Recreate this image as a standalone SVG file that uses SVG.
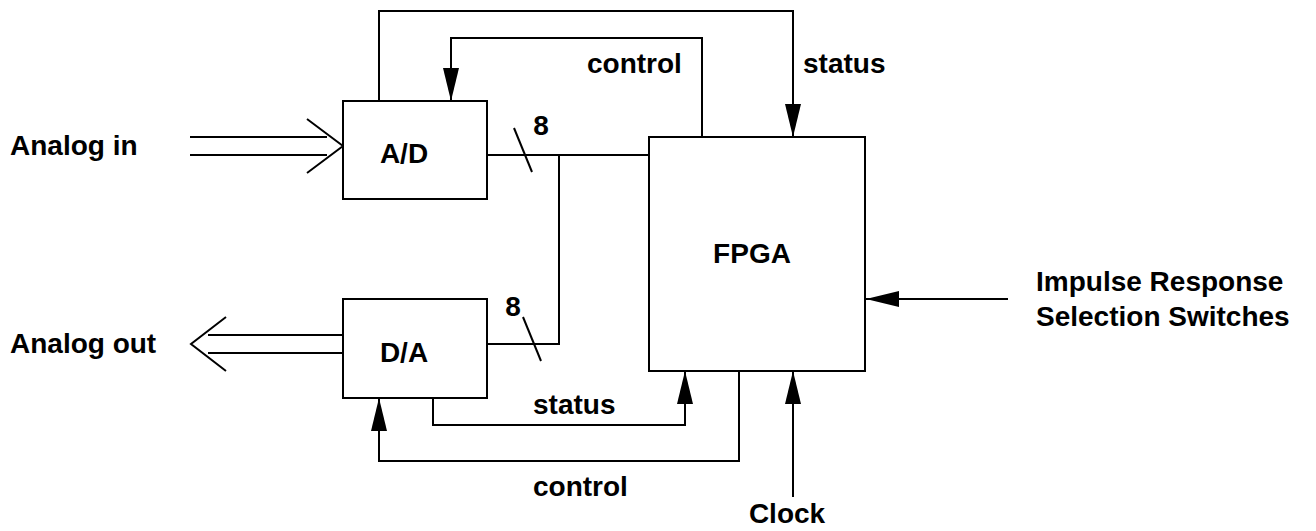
<svg xmlns="http://www.w3.org/2000/svg" width="1316" height="531" viewBox="0 0 1316 531">
  <style>
    .box { fill: #fff; stroke: #000; stroke-width: 2; }
    .wire { fill: none; stroke: #000; stroke-width: 2; }
    .arr { fill: none; stroke: #000; stroke-width: 2; marker-end: url(#head); }
    .t { font-family: "Liberation Sans", Arial, sans-serif; font-weight: bold; font-size: 28px; fill: #000; }
    .c { text-anchor: middle; }
  </style>
  <defs>
    <marker id="head" viewBox="0 0 33 16" refX="33" refY="8" markerWidth="33" markerHeight="16" markerUnits="userSpaceOnUse" orient="auto">
      <path d="M0,0 L33,8 L0,16 Z" fill="#000"/>
    </marker>
  </defs>
  <rect width="1316" height="531" fill="#fff"/>

  <g id="connectors">
    <!-- Analog in -->
    <line class="wire" x1="190" y1="137" x2="327" y2="137"/>
    <line class="wire" x1="190" y1="155" x2="327" y2="155"/>
    <polyline class="wire" points="307,119 343,146 307,173"/>
    <!-- Analog out -->
    <line class="wire" x1="208" y1="335" x2="343" y2="335"/>
    <line class="wire" x1="208" y1="353" x2="343" y2="353"/>
    <polyline class="wire" points="226,317 191,344 226,371"/>
    <!-- A/D to FPGA bus -->
    <line class="wire" x1="487" y1="155" x2="649" y2="155"/>
    <line class="wire" x1="514" y1="128" x2="532" y2="172"/>
    <!-- D/A bus -->
    <polyline class="wire" points="487,344 559,344 559,155"/>
    <line class="wire" x1="523" y1="317" x2="541" y2="361"/>
    <!-- top status -->
    <polyline class="arr" points="379,101 379,11 793,11 793,137"/>
    <!-- top control -->
    <polyline class="arr" points="702,137 702,38 451,38 451,101"/>
    <!-- bottom status -->
    <polyline class="arr" points="433,398 433,425 685,425 685,371"/>
    <!-- bottom control -->
    <polyline class="arr" points="739,371 739,461 379,461 379,398"/>
    <!-- clock -->
    <line class="arr" x1="793" y1="497" x2="793" y2="371"/>
    <!-- impulse -->
    <line class="arr" x1="1008" y1="299" x2="866" y2="299"/>
  </g>

  <g id="ad">
    <rect class="box" x="343" y="101" width="144" height="98"/>
    <text class="t c" x="404" y="163">A/D</text>
  </g>
  <g id="da">
    <rect class="box" x="343" y="299" width="144" height="99"/>
    <text class="t c" x="404" y="362">D/A</text>
  </g>
  <g id="fpga">
    <rect class="box" x="649" y="137" width="216" height="234"/>
    <text class="t c" x="752" y="263">FPGA</text>
  </g>

  <g id="labels">
    <text class="t" x="10" y="155">Analog in</text>
    <text class="t" x="10" y="353">Analog out</text>
    <text class="t c" x="541" y="135">8</text>
    <text class="t c" x="513" y="316">8</text>
    <text class="t" x="587" y="73">control</text>
    <text class="t" x="803" y="73">status</text>
    <text class="t" x="533" y="414">status</text>
    <text class="t" x="533" y="496">control</text>
    <text class="t c" x="787" y="523">Clock</text>
    <text class="t" x="1036" y="291">Impulse Response</text>
    <text class="t" x="1036" y="326">Selection Switches</text>
  </g>
</svg>
